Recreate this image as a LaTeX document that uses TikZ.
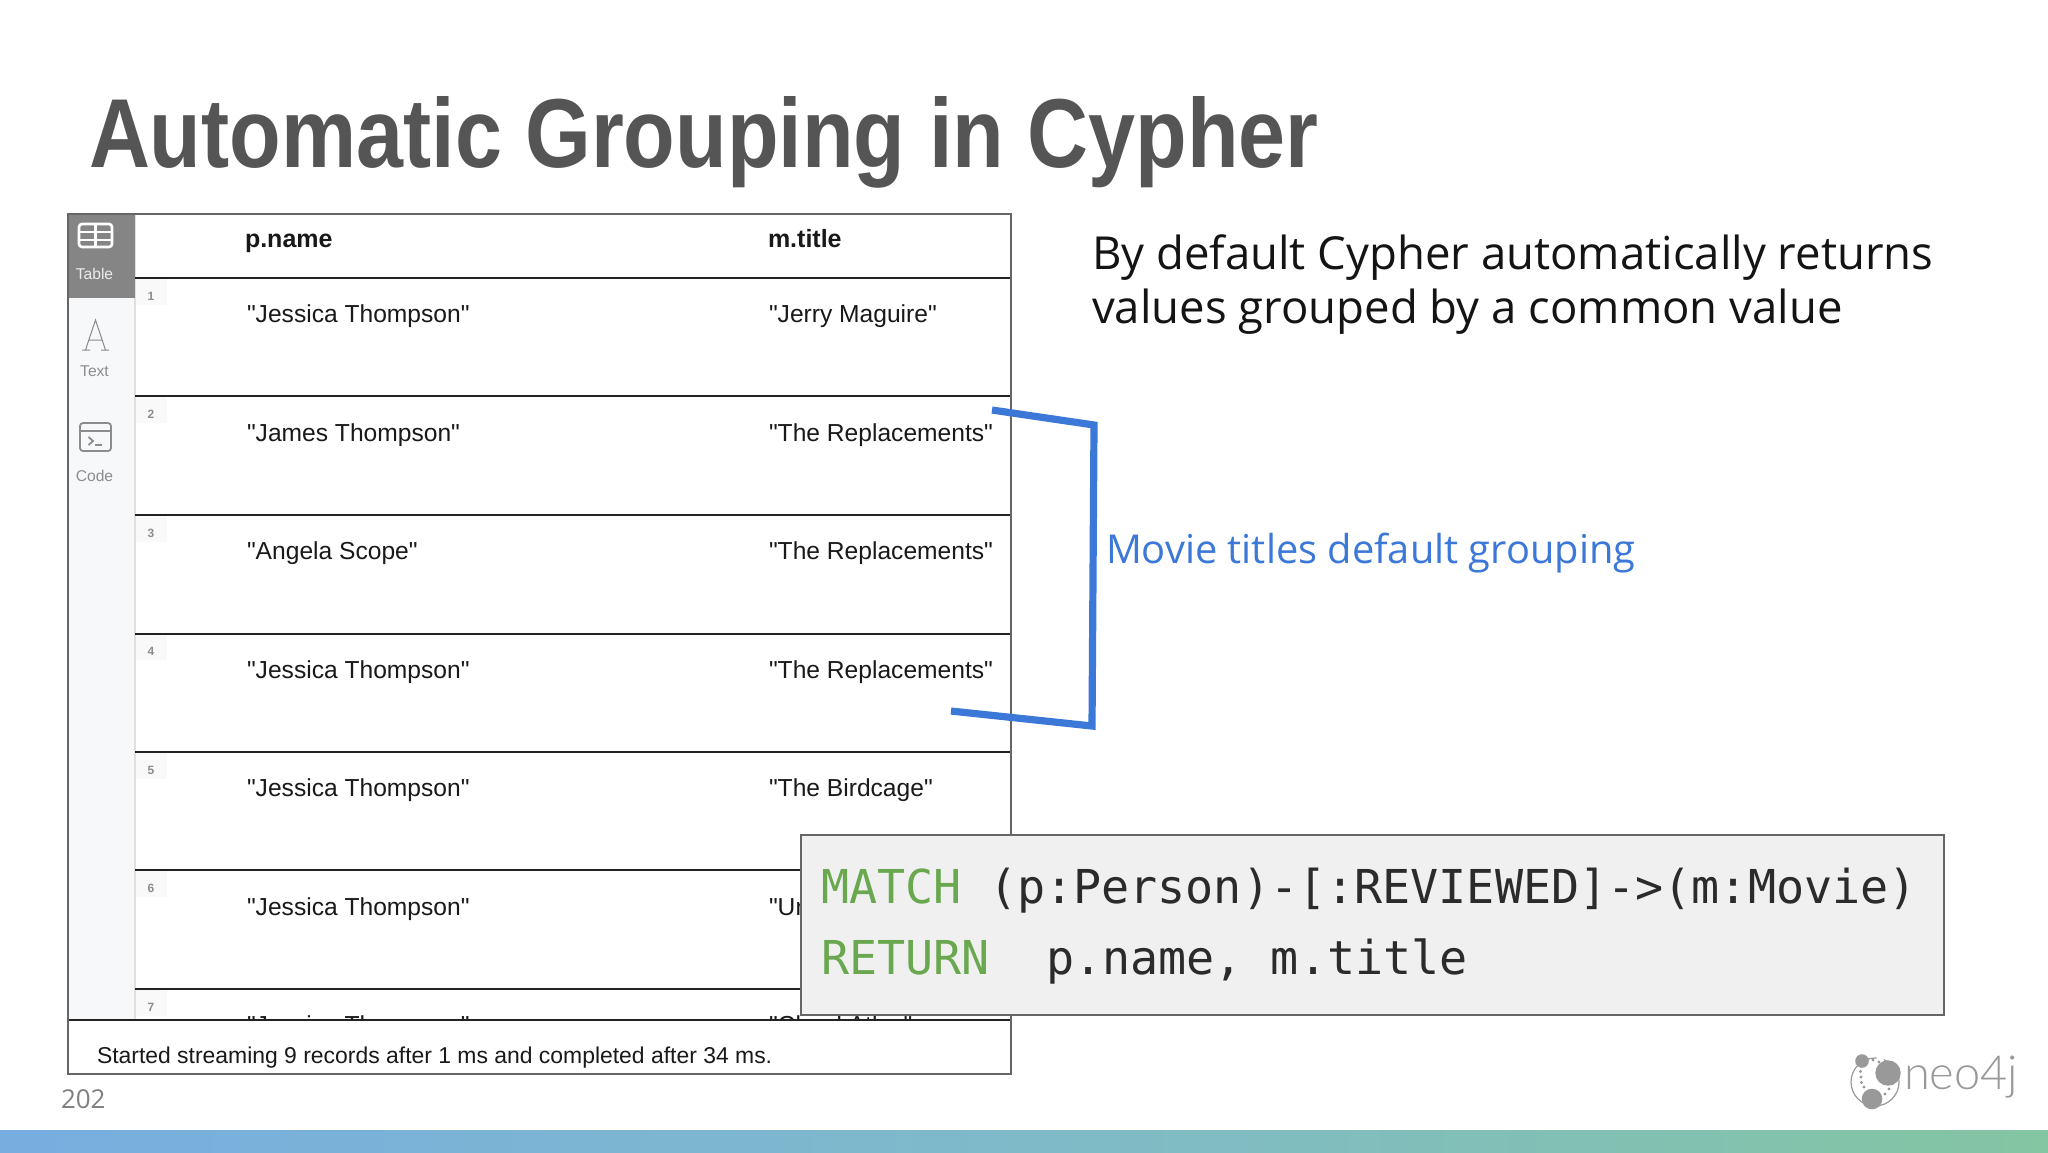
\documentclass[tikz,border=0pt]{standalone}
\usepackage{fontspec}
\defaultfontfeatures{}
\setmainfont{Liberation Sans}[Ligatures=ResetAll]
\newfontfamily\tablefont{Liberation Sans}
\newfontfamily\bodyfont{Open Sans}
\newfontfamily\codefont{DejaVu Sans Mono}
\newfontfamily\logofont{Lato Light}
\usetikzlibrary{shadings}
\definecolor{framegray}{HTML}{666666}
\definecolor{rulegray}{HTML}{222222}
\definecolor{titlegray}{HTML}{555555}
\definecolor{tabgray}{HTML}{858585}
\definecolor{sidegray}{HTML}{F7F8F9}
\definecolor{iconlabel}{HTML}{8C8C8C}
\definecolor{bracketblue}{HTML}{3C78D8}
\definecolor{codegreen}{HTML}{6AA84F}
\definecolor{codefill}{HTML}{F0F0F0}
\definecolor{codeink}{HTML}{2B2B2B}
\definecolor{logogray}{HTML}{999999}
\definecolor{bandblue}{HTML}{76AEE0}
\definecolor{bandmid}{HTML}{7FBAC9}
\definecolor{bandgreen}{HTML}{84C5A2}
\newcommand{\fs}[1]{\fontsize{#1}{#1}\selectfont}
\tikzset{
  txt/.style={inner sep=0pt,outer sep=0pt,anchor=base west},
  cell/.style={txt,font=\tablefont\fs{12.3},text=black!90},
  headcell/.style={txt,font=\tablefont\fs{12.5}\bfseries,text=black!90},
  rownum/.style={inner sep=0pt,anchor=base,font=\fs{6}\bfseries,text=black!45},
  rowtag/.style={fill=black!2.5,draw=none},
  rowline/.style={draw=rulegray,line width=1pt},
  frameline/.style={draw=framegray,line width=1pt},
  sidelabel/.style={inner sep=0pt,anchor=base,font=\fs{7.8},text=iconlabel},
  iconline/.style={draw=iconlabel,line width=0.9pt},
  thinicon/.style={draw=iconlabel,line width=0.5pt},
  bracket/.style={draw=bracketblue,line width=3.6pt,line join=miter},
  bodytext/.style={txt,font=\bodyfont\fs{22.75},text=black!92},
  codetext/.style={txt,font=\codefont\fs{23.35},text=codeink},
}
\begin{document}
\begin{tikzpicture}[x=0.5pt,y=-0.5pt]
\useasboundingbox (0,0) rectangle (2048,1152);
\fill[white] (0,0) rectangle (2048,1152);
% bottom band
\shade[left color=bandblue,right color=bandgreen,middle color=bandmid] (0,1130) rectangle (2048,1152);
% title
\node[txt,font=\fs{49}\bfseries,text=titlegray,xscale=0.862,transform shape] (title) at (89,167) {Automatic Grouping in Cypher};
% table frame
\coordinate (ftl) at (68,214);
\coordinate (fbr) at (1011,1074);
\fill[white] (ftl) rectangle (fbr);
\fill[sidegray] (68,214) rectangle (135,1020);
\draw[draw=black!12,line width=0.6pt] (135,214) -- (135,1020);
\fill[tabgray] (68,214) rectangle (135,298);
% row number tags
\foreach \n/\y in {1/279,2/397,3/516,4/634,5/753,6/871,7/990}{
  \fill[rowtag] (136,\y) rectangle (167,\y+26);
  \node[rownum] (num\n) at (151,\y+21) {\n};
}
% header and rows
\node[headcell] (hname) at (245,247) {p.name};
\node[headcell] (htitle) at (768,247) {m.title};
\foreach \n/\y/\a/\b in {1/322/Jessica Thompson/Jerry Maguire,2/441/James Thompson/The Replacements,3/559/Angela Scope/The Replacements,4/678/Jessica Thompson/The Replacements,5/796/Jessica Thompson/The Birdcage}{
  \node[cell] (name\n) at (247,\y) {"\a"};
  \node[cell] (movie\n) at (769,\y) {"\b"};
}
\node[cell] (name6) at (247,915) {"Jessica Thompson"};
\begin{scope}
\clip (760,880) rectangle (801,940);
\node[cell] (movie6) at (769,915) {"Unforgiven"};
\end{scope}
\begin{scope}
\clip (135,990) rectangle (1011,1020);
\node[cell] (name7) at (247,1033) {"Jessica Thompson"};
\node[cell] (movie7) at (769,1033) {"Cloud Atlas"};
\end{scope}
\foreach \y in {278,396,515,634,752,870,989}{
  \draw[rowline] (135,\y) -- (1011,\y);
}
\draw[rowline] (69,1020) -- (1011,1020);
\draw[frameline] (ftl) rectangle (fbr);
% table icon
\draw[draw=white,line width=1.3pt,rounded corners=1.5pt] (79,224) rectangle (112,247);
\draw[draw=white,line width=1.3pt] (79,232) -- (112,232) (79,240) -- (112,240) (95.5,224) -- (95.5,247);
\node[sidelabel,text=white!92!black] (ltable) at (94.5,279) {Table};
% text icon
\draw[thinicon] (85.5,350) -- (95.5,320) -- (105.5,350) (88.5,340) -- (102.5,340) (82,350) -- (90,350) (101,350) -- (109,350);
\node[sidelabel] (ltext) at (94.5,376) {Text};
% code icon
\draw[iconline,rounded corners=1.5pt] (80,423) rectangle (111,451);
\draw[iconline] (80,431) -- (111,431);
\draw[iconline] (88.5,437) -- (93,441) -- (88.5,445);
\draw[iconline] (95,445) -- (102,445);
\node[sidelabel] (lcode) at (94.5,481) {Code};
% footer
\node[txt,font=\tablefont\fs{11.46},text=black!90] (status) at (97,1063) {Started streaming 9 records after 1 ms and completed after 34 ms.};
% page number
\node[txt,font=\bodyfont\fs{13},text=black!50] (page) at (61,1108) {202};
% bracket
\coordinate (b1) at (992,410);
\coordinate (b2) at (1094,425);
\coordinate (b3) at (1092,726);
\coordinate (b4) at (951,711);
\draw[bracket] (b1) -- (b2) -- (b3) -- (b4);
% right text
\node[bodytext] (body1) at (1092,269) {By default Cypher automatically returns};
\node[bodytext] (body2) at (1092,323) {values grouped by a common value};
\node[txt,font=\bodyfont\fs{19.9},text=bracketblue] (group) at (1106,563) {Movie titles default grouping};
% code box
\node[draw=framegray,line width=1pt,fill=codefill,inner sep=0pt,anchor=north west,minimum width=1143pt/2,minimum height=180pt/2] (codebox) at (800,834) {};
\node[codetext,text=codegreen] (kw1) at (821,903) {MATCH};
\node[codetext] (code1) at (989,903) {(p:Person)-[:REVIEWED]->(m:Movie)};
\node[codetext,text=codegreen] (kw2) at (821,974) {RETURN};
\node[codetext] (code2) at (1046,974) {p.name, m.title};
% logo
\draw[draw=logogray,line width=0.6pt] (1875,1082) circle (24);
\fill[white] (1880,1060) circle (4);
\fill[logogray] (1888,1073) circle (12.7);
\fill[logogray] (1872,1099) circle (10.3);
\fill[logogray] (1862,1061) circle (6.8);
\foreach \p in {(1873,1060),(1879,1062),(1860.5,1071.5),(1861,1077),(1861.5,1082.5),(1864,1087),(1885,1094),(1889,1089)}{
  \fill[logogray] \p circle (1.6);
}
\node[txt,font=\logofont\fs{23.5},text=logogray] (logo) at (1904,1089) {neo4j};
\end{tikzpicture}
\end{document}
